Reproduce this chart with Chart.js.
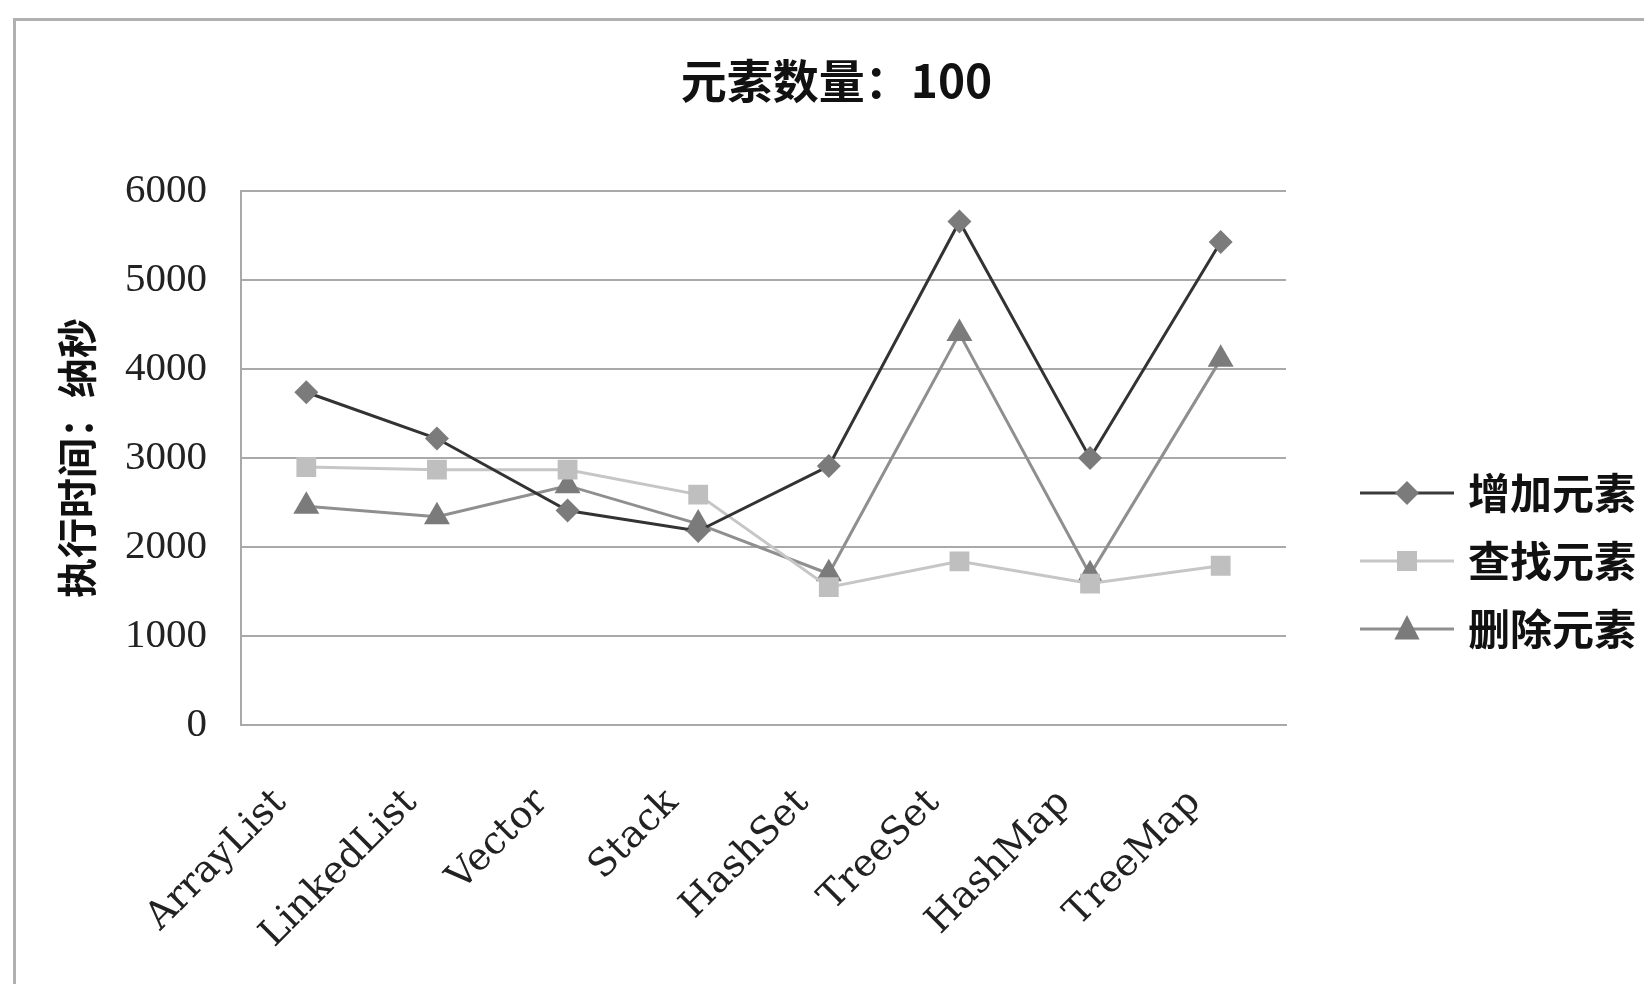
<!DOCTYPE html>
<html>
<head>
<meta charset="utf-8">
<title>元素数量：100</title>
<script src="https://cdn.jsdelivr.net/npm/chart.js@4.4.1/dist/chart.umd.min.js"></script>
<style>
  html, body { margin: 0; padding: 0; background: #fff; overflow: hidden; }
  #chart { display: block; }
</style>
</head>
<body>
<canvas id="chart" width="1644" height="984"></canvas>
<script>
// chart data
const categories = ['ArrayList', 'LinkedList', 'Vector', 'Stack', 'HashSet', 'TreeSet', 'HashMap', 'TreeMap'];
const addTimes = [3740, 3220, 2410, 2180, 2910, 5660, 3000, 5430];
const findTimes = [2900, 2870, 2870, 2590, 1550, 1840, 1590, 1790];
const removeTimes = [2460, 2340, 2690, 2260, 1700, 4400, 1690, 4110];
const seriesNames = ['增加元素', '查找元素', '删除元素'];
const yTicks = [0, 1000, 2000, 3000, 4000, 5000, 6000];

const CJK = '"Noto Sans CJK SC", "Noto Sans", sans-serif';
const SERIF = '"Liberation Serif", "DejaVu Serif", serif';

// legend swatch: line with the marker in the middle, drawn on a small canvas
function legendSwatch(lineColor, lineWidth, markerColor, shape, r) {
  const c = document.createElement('canvas');
  c.width = 149; c.height = 40;
  const g = c.getContext('2d');
  const x0 = 55, x1 = 149, cy = 20, cx = (x0 + x1) / 2;
  g.strokeStyle = lineColor;
  g.lineWidth = lineWidth;
  g.beginPath(); g.moveTo(x0, cy); g.lineTo(x1, cy); g.stroke();
  g.fillStyle = markerColor;
  g.beginPath();
  if (shape === 'rectRot') {
    g.moveTo(cx, cy - r); g.lineTo(cx + r, cy); g.lineTo(cx, cy + r); g.lineTo(cx - r, cy);
  } else if (shape === 'rect') {
    g.rect(cx - r, cy - r, 2 * r, 2 * r);
  } else {
    g.moveTo(cx, cy - r); g.lineTo(cx + r * 0.9, cy + r * 0.75); g.lineTo(cx - r * 0.9, cy + r * 0.75);
  }
  g.closePath(); g.fill();
  return c;
}

const swatches = [
  legendSwatch('#3a3a3a', 3, '#7b7b7b', 'rectRot', 12),
  legendSwatch('#c6c6c6', 3, '#bfbfbf', 'rect', 10),
  legendSwatch('#8f8f8f', 3, '#7b7b7b', 'triangle', 14)
];

// grey frame round the chart
const framePlugin = {
  id: 'frame',
  beforeDraw(chart) {
    const ctx = chart.ctx;
    ctx.save();
    ctx.fillStyle = '#fff';
    ctx.fillRect(0, 0, chart.width, chart.height);
    ctx.strokeStyle = '#b0b0b0';
    ctx.lineWidth = 3;
    ctx.strokeRect(14.5, 19.5, chart.width + 50, chart.height + 50);
    ctx.restore();
  }
};

new Chart(document.getElementById('chart'), {
  type: 'line',
  data: {
    labels: categories,
    datasets: [
      {
        label: seriesNames[0], data: addTimes,
        borderColor: '#333333', borderWidth: 3,
        pointStyle: 'rectRot', pointRadius: 12, pointBackgroundColor: '#7b7b7b', pointBorderWidth: 0
      },
      {
        label: seriesNames[1], data: findTimes,
        borderColor: '#c6c6c6', borderWidth: 3,
        pointStyle: 'rect', pointRadius: 14, pointBackgroundColor: '#bfbfbf', pointBorderWidth: 0
      },
      {
        label: seriesNames[2], data: removeTimes,
        borderColor: '#8f8f8f', borderWidth: 3,
        pointStyle: 'triangle', pointRadius: 15, pointBackgroundColor: '#7b7b7b', pointBorderWidth: 0
      }
    ]
  },
  options: {
    responsive: false,
    animation: false,
    events: [],
    layout: { padding: { left: 30, top: 0, right: 1, bottom: 0 } },
    elements: { line: { tension: 0 } },
    plugins: {
      title: {
        display: true,
        text: '元素数量：100',
        color: '#111',
        font: { family: CJK, size: 46, weight: 'bold', lineHeight: 1.2 },
        padding: { top: 53, bottom: 83 }
      },
      legend: {
        position: 'right',
        maxWidth: 357,
        // empty title only pushes the entries down to where the reference has them
        title: { display: true, text: ' ', padding: 0, font: { size: 40, lineHeight: 3.45 } },
        labels: {
          color: '#111',
          font: { family: CJK, size: 42, weight: 'bold' },
          usePointStyle: true,
          pointStyleWidth: 135,
          boxHeight: 40,
          padding: 26,
          generateLabels(chart) {
            const items = Chart.defaults.plugins.legend.labels.generateLabels(chart);
            items.forEach((it, i) => { it.pointStyle = swatches[i]; });
            return items;
          }
        }
      },
      tooltip: { enabled: false }
    },
    scales: {
      x: {
        offset: true,
        grid: { display: false, drawTicks: false },
        border: { display: true, color: '#a9a9a9', width: 2 },
        ticks: {
          color: '#222',
          font: { family: '"DejaVu Serif", serif', size: 38 },
          minRotation: 45, maxRotation: 45,
          padding: 30,
          callback(v, i) { return categories[i] + '   '; }
        },
        afterFit(scale) { scale.height = 259; }
      },
      y: {
        min: 0, max: 6000,
        afterBuildTicks(scale) { scale.ticks = yTicks.map(v => ({ value: v })); },
        grid: { color: '#a9a9a9', lineWidth: 2, drawTicks: false },
        border: { display: true, color: '#a9a9a9', width: 2 },
        ticks: {
          color: '#222',
          font: { family: SERIF, size: 41 },
          padding: 34,
          callback(v) { return String(v); }
        },
        title: {
          display: true,
          text: '执行时间：纳秒',
          color: '#111',
          font: { family: CJK, size: 40, weight: 'bold', lineHeight: 1.2 },
          padding: { top: 23, bottom: 0 }
        },
        afterFit(scale) { scale.width = 211; }
      }
    }
  },
  plugins: [framePlugin]
});
</script>
</body>
</html>
